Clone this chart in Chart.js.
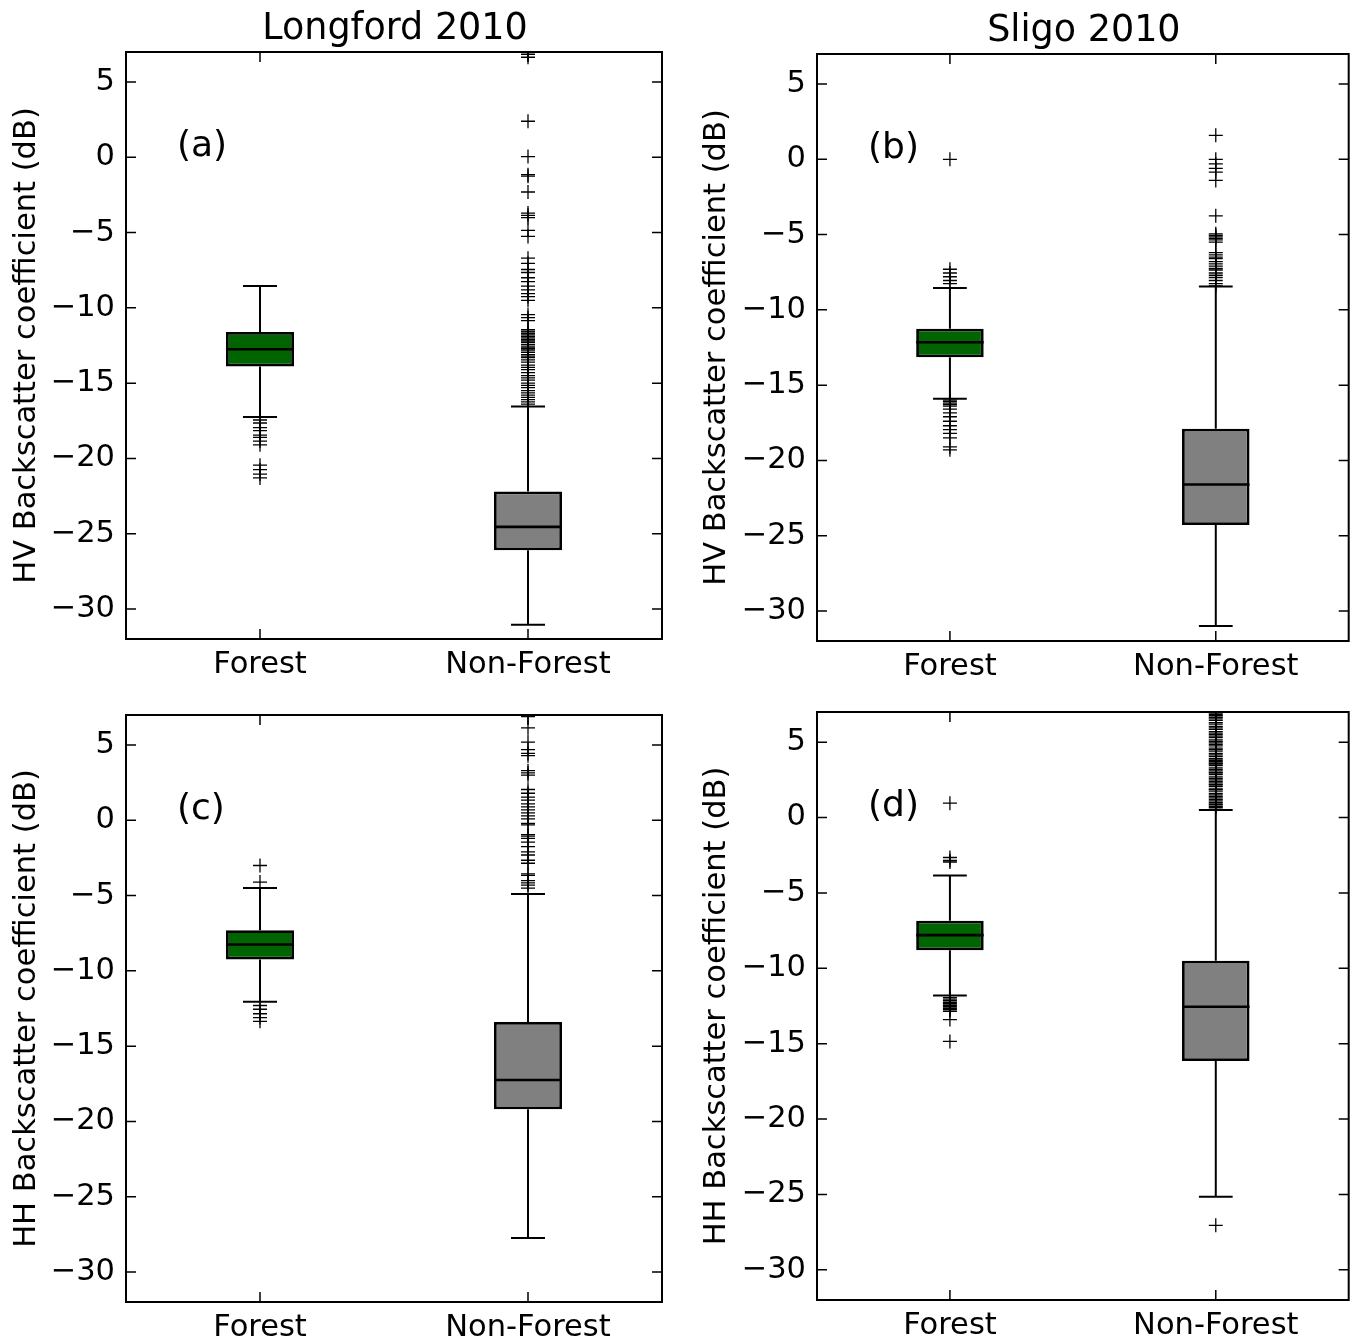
<!DOCTYPE html>
<html>
<head>
<meta charset="utf-8">
<title>Backscatter box plots</title>
<script src="https://cdn.jsdelivr.net/npm/chart.js@4.4.0/dist/chart.umd.min.js"></script>
<style>
  body { margin: 0; background: #fff; width: 1357px; height: 1341px; position: relative; overflow: hidden; }
  canvas { position: absolute; }
</style>
</head>
<body>
<canvas id="chartA" width="680" height="690" style="left:0;top:0"></canvas>
<canvas id="chartB" width="667" height="690" style="left:690px;top:0"></canvas>
<canvas id="chartC" width="680" height="681" style="left:0;top:660px"></canvas>
<canvas id="chartD" width="667" height="681" style="left:690px;top:660px"></canvas>
<script>
// categorias y ticks
const categories = ["Forest", "Non-Forest"];
const yTicks = [5, 0, -5, -10, -15, -20, -25, -30];
const boxColors = ["#006400", "#808080"];

// (a) Longford 2010, HV
const aQ1 = [-13.9, -26.1];
const aQ3 = [-11.6, -22.2];
const aMedian = [-12.75, -24.55];
const aLow = [-17.25, -31.05];
const aHigh = [-8.55, -16.55];
const aOutForest = [-17.45, -17.65, -17.95, -18.15, -18.45, -18.6, -18.85, -19.1, -20.45, -20.75, -21.05, -21.3];
const aOutNon = [6.85, 6.65, 2.4, 0.05, -1.15, -1.25, -2.3, -3.7, -3.85, -4.0, -4.85, -5.25, -6.7, -7.05, -7.45, -7.65,
  -8.0, -8.25, -8.55, -8.8, -9.05, -9.25, -9.5, -10.45, -10.65, -10.85, -11.45, -11.55, -11.6, -11.7, -11.8, -11.9,
  -12.0, -12.1, -12.2, -12.3, -12.45, -12.6, -12.7, -12.8, -12.95, -13.1, -13.2, -13.3, -13.45, -13.6, -13.8,
  -13.95, -14.1, -14.3, -14.5, -14.65, -14.8, -15.0, -15.15, -15.3, -15.5, -15.65, -15.8, -15.95, -16.1, -16.25, -16.4];

// (b) Sligo 2010, HV
const bQ1 = [-13.15, -24.3];
const bQ3 = [-11.25, -17.9];
const bMedian = [-12.15, -21.6];
const bLow = [-15.9, -31.0];
const bHigh = [-8.55, -8.45];
const bOutForest = [0.0, -7.3, -7.55, -7.8, -8.05, -8.25, -16.0, -16.1, -16.2, -16.3, -16.4, -16.6, -16.85, -17.1,
  -17.4, -17.7, -17.95, -18.2, -18.5, -19.1, -19.3];
const bOutNon = [1.6, 0.0, -0.3, -0.6, -0.85, -1.4, -3.75, -4.95, -5.05, -5.15, -5.25, -5.35, -5.5, -6.2, -6.35,
  -6.5, -6.6, -6.8, -6.95, -7.1, -7.25, -7.35, -7.55, -7.7, -7.85, -8.05, -8.25, -8.4];

// (c) Longford 2010, HH
const cQ1 = [-9.25, -19.2];
const cQ3 = [-7.3, -13.4];
const cMedian = [-8.25, -17.25];
const cLow = [-12.05, -27.75];
const cHigh = [-4.5, -4.9];
const cOutForest = [-3.0, -4.1, -12.3, -12.55, -12.85, -13.1, -13.35];
const cOutNon = [6.9, 6.15, 5.2, 4.7, 4.45, 4.3, 3.3, 3.15, 3.0, 2.05, 1.8, 1.55, 1.35, 1.1, 0.9, 0.7, 0.5, 0.3,
  0.1, -0.2, -0.3, -0.95, -1.05, -1.2, -1.45, -1.75, -2.1, -2.3, -2.65, -2.85, -3.55, -3.65, -4.0, -4.15, -4.3, -4.5];

// (d) Sligo 2010, HH
const dQ1 = [-8.8, -16.15];
const dQ3 = [-6.85, -9.5];
const dMedian = [-7.8, -12.55];
const dLow = [-11.8, -25.15];
const dHigh = [-3.85, 0.5];
const dOutForest = [0.95, -2.65, -2.85, -2.95, -11.95, -12.05, -12.15, -12.25, -12.35, -12.45, -12.55, -12.65,
  -12.75, -12.85, -13.4, -14.85];
const dOutNon = [0.65, 0.75, 0.85, 0.9, 1.0, 1.1, 1.2, 1.3, 1.4, 1.5, 1.6, 1.75, 1.85, 1.9, 2.05, 2.15, 2.2, 2.3,
  2.4, 2.5, 2.6, 2.7, 2.85, 2.95, 3.0, 3.1, 3.2, 3.3, 3.45, 3.55, 3.6, 3.7, 3.8, 3.9, 4.05, 4.15, 4.25, 4.4, 4.5,
  4.6, 4.75, 4.85, 4.95, 5.05, 5.15, 5.3, 5.4, 5.5, 5.6, 5.7, 5.85, 5.95, 6.05, 6.2, 6.3, 6.45, 6.55, 6.65, 6.75,
  6.85, 6.95, -27.05];

const FONT = "DejaVu Sans";

// bigotes, medianas, marco y ticks hacia dentro
const boxPlot = {
  id: "boxPlot",
  beforeDatasetsDraw(chart, args, opts) {
    const { ctx, scales: { x, y } } = chart;
    const bars = chart.getDatasetMeta(0).data;
    ctx.save();
    ctx.strokeStyle = "#000";
    ctx.lineWidth = 2;
    opts.low.forEach((lo, i) => {
      const cx = x.getPixelForValue(i);
      const half = bars[i].width / 4;
      const yLo = y.getPixelForValue(lo);
      const yHi = y.getPixelForValue(opts.high[i]);
      ctx.beginPath();
      ctx.moveTo(cx, y.getPixelForValue(opts.q1[i])); ctx.lineTo(cx, yLo);
      ctx.moveTo(cx, y.getPixelForValue(opts.q3[i])); ctx.lineTo(cx, yHi);
      ctx.moveTo(cx - half, yLo); ctx.lineTo(cx + half, yLo);
      ctx.moveTo(cx - half, yHi); ctx.lineTo(cx + half, yHi);
      ctx.stroke();
    });
    ctx.restore();
  },
  afterDatasetsDraw(chart, args, opts) {
    const { ctx, scales: { x, y } } = chart;
    const bars = chart.getDatasetMeta(0).data;
    ctx.save();
    ctx.strokeStyle = "#000";
    ctx.lineWidth = 2.6;
    opts.median.forEach((m, i) => {
      const cx = x.getPixelForValue(i);
      const half = bars[i].width / 2;
      const ym = y.getPixelForValue(m);
      ctx.beginPath();
      ctx.moveTo(cx - half, ym); ctx.lineTo(cx + half, ym);
      ctx.stroke();
    });
    ctx.restore();
  },
  afterDraw(chart, args, opts) {
    const { ctx, chartArea: a, scales: { x, y } } = chart;
    ctx.save();
    ctx.strokeStyle = "#000";
    ctx.lineWidth = 1.5;
    ctx.beginPath();
    yTicks.forEach(v => {
      const py = y.getPixelForValue(v);
      ctx.moveTo(a.left, py); ctx.lineTo(a.left + 10, py);
      ctx.moveTo(a.right, py); ctx.lineTo(a.right - 10, py);
    });
    categories.forEach((c, i) => {
      const px = x.getPixelForValue(i);
      ctx.moveTo(px, a.top); ctx.lineTo(px, a.top + 10);
      ctx.moveTo(px, a.bottom); ctx.lineTo(px, a.bottom - 10);
    });
    ctx.stroke();
    ctx.lineWidth = 2;
    ctx.strokeRect(a.left, a.top, a.right - a.left, a.bottom - a.top);

    ctx.fillStyle = "#000";
    ctx.textBaseline = "middle";
    ctx.textAlign = "left";
    ctx.font = `36px "${FONT}"`;
    ctx.fillText(opts.letter, a.left + 51, a.top + 95);
    if (opts.title) {
      ctx.textAlign = "center";
      ctx.font = `36.5px "${FONT}"`;
      ctx.fillText(opts.title, (a.left + a.right) / 2 + 1, a.top - 22);
    }
    ctx.restore();
  }
};

function fmtTick(v) {
  return v < 0 ? "\u2212" + Math.abs(v) : String(v);
}

function makePanel(id, p) {
  const outliers = p.outForest.map(v => ({ x: "Forest", y: v }))
    .concat(p.outNon.map(v => ({ x: "Non-Forest", y: v })));

  new Chart(document.getElementById(id), {
    type: "bar",
    data: {
      labels: categories,
      datasets: [
        {
          data: p.q1.map((v, i) => [v, p.q3[i]]),
          backgroundColor: boxColors,
          borderColor: "#000",
          borderWidth: 2.8,
          borderSkipped: false,
          barPercentage: 0.254,
          categoryPercentage: 1,
          order: 2
        },
        {
          type: "scatter",
          data: outliers,
          pointStyle: "cross",
          pointRadius: 7,
          borderColor: "#000",
          borderWidth: 1.3,
          order: 1
        }
      ]
    },
    options: {
      responsive: false,
      animation: false,
      layout: { padding: { top: p.top, right: p.right, left: 0, bottom: 0 } },
      plugins: {
        legend: { display: false },
        tooltip: { enabled: false },
        boxPlot: {
          q1: p.q1, q3: p.q3, median: p.median, low: p.low, high: p.high,
          letter: p.letter, title: p.title
        }
      },
      scales: {
        x: {
          afterFit: s => { s.height = p.bottom; },
          grid: { display: false, drawTicks: false },
          border: { display: false },
          ticks: { color: "#000", font: { family: FONT, size: 30.5 }, padding: 8 }
        },
        y: {
          min: -32,
          max: 7,
          afterBuildTicks: s => { s.ticks = yTicks.map(v => ({ value: v })); },
          afterFit: s => { s.width = p.left; },
          grid: { display: false, drawTicks: false },
          border: { display: false },
          ticks: { color: "#000", font: { family: FONT, size: 30.5 }, padding: 11, callback: fmtTick },
          title: {
            display: true,
            text: p.yTitle,
            color: "#000",
            font: { family: FONT, size: 30.5 },
            padding: { top: 9, bottom: 0 }
          }
        }
      }
    },
    plugins: [boxPlot]
  });
}

makePanel("chartA", {
  q1: aQ1, q3: aQ3, median: aMedian, low: aLow, high: aHigh, outForest: aOutForest, outNon: aOutNon,
  letter: "(a)", title: "Longford 2010", yTitle: "HV Backscatter coefficient (dB)",
  left: 126, right: 18, top: 52, bottom: 51
});
makePanel("chartB", {
  q1: bQ1, q3: bQ3, median: bMedian, low: bLow, high: bHigh, outForest: bOutForest, outNon: bOutNon,
  letter: "(b)", title: "Sligo 2010", yTitle: "HV Backscatter coefficient (dB)",
  left: 127, right: 4, top: 54, bottom: 49
});
makePanel("chartC", {
  q1: cQ1, q3: cQ3, median: cMedian, low: cLow, high: cHigh, outForest: cOutForest, outNon: cOutNon,
  letter: "(c)", title: "", yTitle: "HH Backscatter coefficient (dB)",
  left: 126, right: 18, top: 55, bottom: 39
});
makePanel("chartD", {
  q1: dQ1, q3: dQ3, median: dMedian, low: dLow, high: dHigh, outForest: dOutForest, outNon: dOutNon,
  letter: "(d)", title: "", yTitle: "HH Backscatter coefficient (dB)",
  left: 127, right: 4, top: 52, bottom: 41
});
</script>
</body>
</html>
